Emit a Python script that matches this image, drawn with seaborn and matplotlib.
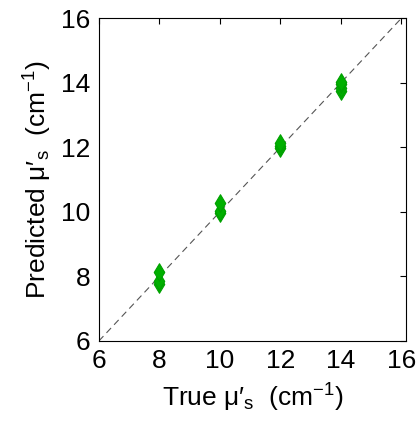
import numpy as np
import pandas as pd
import seaborn as sns
import matplotlib
matplotlib.use('Agg')
import matplotlib.pyplot as plt

# data
true_vals = [8, 8, 8, 10, 10, 10, 12, 12, 12, 14, 14, 14, 14]
predicted_vals = [7.78, 7.86, 8.13, 9.95, 10.02, 10.27, 11.98, 12.05, 12.12, 13.75, 13.85, 13.95, 14.03]
ticks = [6, 8, 10, 12, 14, 16]

df = pd.DataFrame({'true': true_vals, 'pred': predicted_vals})

sns.set_style('white')
plt.rcParams['font.family'] = ['Liberation Sans', 'DejaVu Sans']
plt.rcParams['mathtext.default'] = 'regular'

fig = plt.figure(figsize=(4.19, 4.22), dpi=100)
ax = fig.add_axes([0.236, 0.192, 0.733, 0.765])

ax.plot([6, 16], [6, 16], linestyle=(0, (6, 4)), color='#555555', linewidth=0.8, zorder=1)
sns.scatterplot(data=df, x='true', y='pred', marker='d', s=80, color='#00b000',
                edgecolor='#00a000', linewidth=0.8, ax=ax, zorder=2)

ax.set_xlim(6, 16.15)
ax.set_ylim(6, 16)
ax.set_xticks(ticks)
ax.set_yticks(ticks)
ax.tick_params(direction='in', length=4, width=0.8, labelsize=19, top=True, right=True,
               colors='black', pad=6)
for sp in ax.spines.values():
    sp.set_color('black')
    sp.set_linewidth(0.8)

ax.set_xlabel("True μ′$_s$  (cm$^{-1}$)", fontsize=19, labelpad=6, color='black')
ax.set_ylabel("Predicted μ′$_s$  (cm$^{-1}$)", fontsize=19, labelpad=5, color='black')

fig.savefig('out.png', dpi=100)
